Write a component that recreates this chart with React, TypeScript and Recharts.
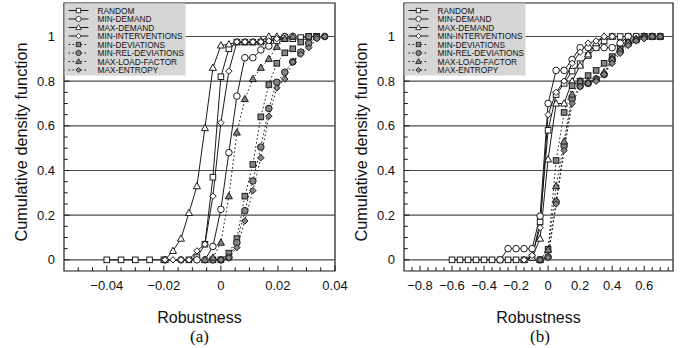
import React from 'react';
import { LineChart, Line, XAxis, YAxis, ReferenceLine, ReferenceArea } from 'recharts';

// ---------- series names (legend order) ----------
const SERIES_NAMES = [
  'RANDOM',
  'MIN-DEMAND',
  'MAX-DEMAND',
  'MIN-INTERVENTIONS',
  'MIN-DEVIATIONS',
  'MIN-REL-DEVIATIONS',
  'MAX-LOAD-FACTOR',
  'MAX-ENTROPY',
];

// ---------- panel (a) data ----------
const aRandomX = [-0.04, -0.035, -0.03, -0.025, -0.02, -0.0112, -0.0084, -0.0056, -0.0028, 0, 0.0028, 0.0056, 0.0084, 0.0112, 0.014, 0.0168, 0.0196, 0.0224, 0.0252, 0.028, 0.0308, 0.0336];
const aRandomY = [0, 0, 0, 0, 0, 0, 0.01, 0.07, 0.37, 0.82, 0.945, 0.975, 0.975, 0.975, 0.975, 0.98, 0.985, 0.99, 0.99, 0.995, 1, 1];

const aMinDemandX = [-0.0196, -0.014, -0.0084, -0.0056, -0.0028, 0, 0.0028, 0.0056, 0.0084, 0.0112, 0.014, 0.0168, 0.0196, 0.0224, 0.0252];
const aMinDemandY = [0, 0, 0, 0, 0.06, 0.226, 0.48, 0.733, 0.905, 0.905, 0.94, 0.957, 0.98, 1, 1];

const aMaxDemandX = [-0.0196, -0.0168, -0.014, -0.0112, -0.0084, -0.0056, -0.0028, 0, 0.0028, 0.0056, 0.0084, 0.0112, 0.014, 0.0168, 0.0196];
const aMaxDemandY = [0, 0.04, 0.095, 0.21, 0.33, 0.59, 0.86, 0.96, 0.965, 0.975, 0.975, 0.975, 0.98, 1, 1];

const aMinIntervX = [-0.0196, -0.0168, -0.014, -0.0112, -0.0084, -0.0056, -0.0028, 0, 0.0028, 0.0056, 0.0084, 0.0112, 0.014, 0.0168, 0.0196, 0.0224];
const aMinIntervY = [0, 0, 0, 0, 0.04, 0.07, 0.285, 0.614, 0.845, 0.976, 0.976, 0.976, 0.976, 0.98, 0.99, 1];

const aMinDevX = [-0.0028, 0, 0.0028, 0.0056, 0.0084, 0.0112, 0.014, 0.0168, 0.0196, 0.0224, 0.0252, 0.028, 0.0308, 0.0336];
const aMinDevY = [0, 0, 0.03, 0.095, 0.285, 0.427, 0.64, 0.785, 0.88, 0.927, 0.945, 0.975, 1, 1];

const aMinRelDevX = [-0.0028, 0, 0.0028, 0.0056, 0.0084, 0.0112, 0.014, 0.0168, 0.0196, 0.0224, 0.0252, 0.028, 0.0308, 0.0336, 0.0364];
const aMinRelDevY = [0, 0, 0.01, 0.077, 0.22, 0.353, 0.505, 0.678, 0.795, 0.84, 0.887, 0.93, 0.97, 0.995, 1];

const aMaxLoadX = [-0.0056, -0.0028, 0, 0.0028, 0.0056, 0.0084, 0.0112, 0.014, 0.0168, 0.0196, 0.0224, 0.0252];
const aMaxLoadY = [0, 0.01, 0.077, 0.285, 0.57, 0.72, 0.81, 0.86, 0.9, 0.954, 0.99, 1];

const aMaxEntX = [0, 0.0028, 0.0056, 0.0084, 0.0112, 0.014, 0.0168, 0.0196, 0.0224, 0.0252, 0.028, 0.0308, 0.0336, 0.0364];
const aMaxEntY = [0, 0.01, 0.055, 0.174, 0.31, 0.457, 0.643, 0.77, 0.81, 0.885, 0.92, 0.95, 0.99, 1];

// ---------- panel (b) data ----------
const bRandomX = [-0.6, -0.55, -0.5, -0.45, -0.4, -0.35, -0.3, -0.25, -0.2, -0.15, -0.1, -0.05, 0, 0.05, 0.1, 0.15, 0.2, 0.25, 0.3, 0.35, 0.4, 0.45, 0.5, 0.55, 0.6, 0.65];
const bRandomY = [0, 0, 0, 0, 0, 0, 0, 0, 0, 0, 0.01, 0.17, 0.58, 0.74, 0.79, 0.845, 0.878, 0.915, 0.95, 0.98, 1, 1, 1, 1, 1, 1];

const bMinDemandX = [-0.3, -0.25, -0.2, -0.15, -0.1, -0.05, 0, 0.05, 0.1, 0.15, 0.2, 0.25, 0.3, 0.35, 0.4, 0.45, 0.5, 0.55];
const bMinDemandY = [0, 0.05, 0.05, 0.05, 0.05, 0.196, 0.7, 0.848, 0.848, 0.897, 0.95, 0.95, 0.95, 0.95, 0.95, 0.97, 1, 1];

const bMaxDemandX = [-0.15, -0.1, -0.05, 0, 0.05, 0.1, 0.15, 0.2, 0.25, 0.3, 0.35, 0.4];
const bMaxDemandY = [0, 0.01, 0.095, 0.45, 0.7, 0.7, 0.8, 0.87, 0.92, 0.97, 1, 1];

const bMinIntervX = [-0.15, -0.1, -0.05, 0, 0.05, 0.1, 0.15, 0.2, 0.25, 0.3, 0.35, 0.4];
const bMinIntervY = [0, 0.02, 0.144, 0.65, 0.75, 0.8, 0.88, 0.93, 0.97, 0.98, 1, 1];

const bMinDevX = [-0.05, 0, 0.05, 0.1, 0.15, 0.2, 0.25, 0.3, 0.35, 0.4, 0.45, 0.5, 0.55, 0.6, 0.65, 0.7];
const bMinDevY = [0, 0.047, 0.445, 0.66, 0.78, 0.8, 0.825, 0.848, 0.88, 0.91, 0.945, 0.97, 0.985, 1, 1, 1];

const bMinRelDevX = [-0.05, 0, 0.05, 0.1, 0.15, 0.2, 0.25, 0.3, 0.35, 0.4, 0.45, 0.5, 0.55, 0.6, 0.65, 0.7];
const bMinRelDevY = [0, 0.013, 0.26, 0.51, 0.72, 0.778, 0.79, 0.81, 0.83, 0.897, 0.934, 0.97, 0.985, 1, 1, 1];

const bMaxLoadX = [-0.05, 0, 0.05, 0.1, 0.15, 0.2, 0.25, 0.3, 0.35, 0.4, 0.45, 0.5, 0.55, 0.6, 0.65, 0.7];
const bMaxLoadY = [0, 0.045, 0.33, 0.53, 0.74, 0.8, 0.8, 0.81, 0.84, 0.9, 0.94, 0.975, 0.99, 1, 1, 1];

const bMaxEntX = [-0.05, 0, 0.05, 0.1, 0.15, 0.2, 0.25, 0.3, 0.35, 0.4, 0.45, 0.5, 0.55, 0.6, 0.65, 0.7];
const bMaxEntY = [0, 0.01, 0.25, 0.49, 0.7, 0.775, 0.79, 0.8, 0.83, 0.88, 0.925, 0.96, 0.98, 0.99, 1, 1];

// ---------- ticks ----------
const aXMajor = [-0.04, -0.02, 0, 0.02, 0.04];
const aXMinor = [-0.05, -0.045, -0.035, -0.03, -0.025, -0.015, -0.01, -0.005, 0.005, 0.01, 0.015, 0.025, 0.03, 0.035];
const bXMajor = [-0.8, -0.6, -0.4, -0.2, 0, 0.2, 0.4, 0.6];
const bXMinor = [-0.85, -0.75, -0.7, -0.65, -0.55, -0.5, -0.45, -0.35, -0.3, -0.25, -0.15, -0.1, -0.05, 0.05, 0.1, 0.15, 0.25, 0.3, 0.35, 0.45, 0.5, 0.55, 0.65, 0.7, 0.75];
const yMajor = [0, 0.2, 0.4, 0.6, 0.8, 1];
const yMinor = [0.05, 0.1, 0.15, 0.25, 0.3, 0.35, 0.45, 0.5, 0.55, 0.65, 0.7, 0.75, 0.85, 0.9, 0.95];

// ---------- styles ----------
type Shape = 'square' | 'circle' | 'triangle' | 'diamond';
const STYLES: { shape: Shape; dotted: boolean }[] = [
  { shape: 'square', dotted: false },
  { shape: 'circle', dotted: false },
  { shape: 'triangle', dotted: false },
  { shape: 'diamond', dotted: false },
  { shape: 'square', dotted: true },
  { shape: 'circle', dotted: true },
  { shape: 'triangle', dotted: true },
  { shape: 'diamond', dotted: true },
];

const INK = '#1a1a1a';
const GRAY_FILL = '#858585';
const FONT = '"Liberation Sans", Arial, Helvetica, sans-serif';
const SERIF = '"Liberation Serif", "Times New Roman", serif';

const zip = (xs: number[], ys: number[]) => xs.map((x, i) => ({ x, y: ys[i] }));

const PANEL_A = [
  zip(aRandomX, aRandomY),
  zip(aMinDemandX, aMinDemandY),
  zip(aMaxDemandX, aMaxDemandY),
  zip(aMinIntervX, aMinIntervY),
  zip(aMinDevX, aMinDevY),
  zip(aMinRelDevX, aMinRelDevY),
  zip(aMaxLoadX, aMaxLoadY),
  zip(aMaxEntX, aMaxEntY),
];
const PANEL_B = [
  zip(bRandomX, bRandomY),
  zip(bMinDemandX, bMinDemandY),
  zip(bMaxDemandX, bMaxDemandY),
  zip(bMinIntervX, bMinIntervY),
  zip(bMinDevX, bMinDevY),
  zip(bMinRelDevX, bMinRelDevY),
  zip(bMaxLoadX, bMaxLoadY),
  zip(bMaxEntX, bMaxEntY),
];

function Marker({ cx, cy, shape, filled }: { cx: number; cy: number; shape: Shape; filled: boolean }) {
  if (cx == null || cy == null || isNaN(cx) || isNaN(cy)) return null;
  const fill = filled ? GRAY_FILL : '#fff';
  const sw = 1;
  if (shape === 'square') {
    const s = 5.6;
    return <rect x={cx - s / 2} y={cy - s / 2} width={s} height={s} fill={fill} stroke={INK} strokeWidth={sw} />;
  }
  if (shape === 'circle') {
    return <circle cx={cx} cy={cy} r={3.3} fill={fill} stroke={INK} strokeWidth={sw} />;
  }
  if (shape === 'triangle') {
    const r = 3.7;
    const pts = `${cx},${cy - r} ${cx + r * 0.95},${cy + r * 0.7} ${cx - r * 0.95},${cy + r * 0.7}`;
    return <polygon points={pts} fill={fill} stroke={INK} strokeWidth={sw} />;
  }
  const r = 3.2;
  const pts = `${cx},${cy - r} ${cx + r},${cy} ${cx},${cy + r} ${cx - r},${cy}`;
  return <polygon points={pts} fill={fill} stroke={INK} strokeWidth={sw} />;
}

const fmt = (v: number) => {
  const r = Math.round(v * 1000) / 1000;
  if (r === 0) return '0';
  return r < 0 ? '\u2212' + String(Math.abs(r)) : String(r);
};

const isIn = (list: number[], v: number) => list.some((m) => Math.abs(m - v) < 1e-9);

const makeXTick = (majors: number[]) => (props: any) => {
  const { x, y, payload } = props;
  const v = payload.value;
  const major = isIn(majors, v);
  return (
    <g>
      <line x1={x} x2={x} y1={y} y2={y - (major ? 5.5 : 3.8)} stroke={INK} strokeWidth={1} />
      {major && (
        <text x={x} y={y + 19} textAnchor="middle" fontSize={13} fontFamily={FONT} fill="#111">
          {fmt(v)}
        </text>
      )}
    </g>
  );
};

const YTick = (props: any) => {
  const { x, y, payload } = props;
  const v = payload.value;
  const major = isIn(yMajor, v);
  return (
    <g>
      <line x1={x} x2={x + (major ? 5.5 : 3.8)} y1={y} y2={y} stroke={INK} strokeWidth={1} />
      {major && (
        <text x={x - 9} y={y + 4.6} textAnchor="end" fontSize={13} fontFamily={FONT} fill="#111">
          {fmt(v)}
        </text>
      )}
    </g>
  );
};

function Panel({
  series,
  xDomain,
  xMajor,
  xMinor,
  width,
  rightMargin,
}: {
  series: { x: number; y: number }[][];
  xDomain: [number, number];
  xMajor: number[];
  xMinor: number[];
  width: number;
  rightMargin: number;
}) {
  const xTicks = [...xMajor, ...xMinor].sort((a, b) => a - b).filter((v) => v >= xDomain[0] && v <= xDomain[1]);
  const yTicks = [...yMajor, ...yMinor].sort((a, b) => a - b);
  return (
    <LineChart width={width} height={348} margin={{ top: 3, right: rightMargin, bottom: 47, left: 0 }}>
      <XAxis
        dataKey="x"
        type="number"
        domain={xDomain}
        ticks={xTicks}
        interval={0}
        tickSize={0}
        tickMargin={0}
        axisLine={false}
        tickLine={false}
        height={30}
        tick={makeXTick(xMajor)}
        allowDataOverflow
      />
      <YAxis
        type="number"
        domain={[-0.05, 1.15]}
        ticks={yTicks}
        interval={0}
        tickSize={0}
        tickMargin={0}
        axisLine={false}
        tickLine={false}
        width={64}
        tick={YTick}
        allowDataOverflow
      />
      {yMajor.map((v) => (
        <ReferenceLine key={v} y={v} stroke="#4a4a4a" strokeWidth={1.2} ifOverflow="visible" />
      ))}
      <ReferenceArea
        x1={xDomain[0]}
        x2={xDomain[1]}
        y1={-0.05}
        y2={1.15}
        fill="none"
        fillOpacity={0}
        stroke={INK}
        strokeWidth={1.2}
        ifOverflow="visible"
      />
      {series.map((d, i) => {
        const st = STYLES[i];
        return (
          <Line
            key={SERIES_NAMES[i]}
            data={d}
            dataKey="y"
            name={SERIES_NAMES[i]}
            stroke={INK}
            strokeWidth={1}
            strokeDasharray={st.dotted ? '1.6 2.4' : undefined}
            isAnimationActive={false}
            dot={(p: any) => (
              <Marker key={`${i}-${p.index}`} cx={p.cx} cy={p.cy} shape={st.shape} filled={st.dotted} />
            )}
            activeDot={false}
          />
        );
      })}
    </LineChart>
  );
}

function LegendBox({ left, top }: { left: number; top: number }) {
  const rowY = (i: number) => top + 7 + i * 8.5;
  return (
    <g>
      <rect x={left} y={top} width={121} height={72} fill="#d6d6d6" stroke="none" />
      {SERIES_NAMES.map((name, i) => {
        const st = STYLES[i];
        const y = rowY(i);
        return (
          <g key={name}>
            <line
              x1={left + 4}
              x2={left + 24}
              y1={y}
              y2={y}
              stroke={INK}
              strokeWidth={1}
              strokeDasharray={st.dotted ? '1.6 2.4' : undefined}
            />
            <g transform={`translate(${left + 14}, ${y}) scale(0.8) translate(${-(left + 14)}, ${-y})`}>
              <Marker cx={left + 14} cy={y} shape={st.shape} filled={st.dotted} />
            </g>
            <text x={left + 33} y={y + 3} fontSize={8.3} fontFamily={FONT} fill="#111">
              {name}
            </text>
          </g>
        );
      })}
    </g>
  );
}

export default function App() {
  return (
    <div style={{ position: 'absolute', left: 0, top: 0, width: 681, height: 348, background: '#fff', overflow: 'hidden' }}>
      <div style={{ position: 'absolute', left: 0, top: 0 }}>
        <Panel series={PANEL_A} xDomain={[-0.055, 0.04]} xMajor={aXMajor} xMinor={aXMinor} width={362} rightMargin={27} />
      </div>
      <div style={{ position: 'absolute', left: 340, top: 0 }}>
        <Panel series={PANEL_B} xDomain={[-0.9, 0.78]} xMajor={bXMajor} xMinor={bXMinor} width={340} rightMargin={7} />
      </div>
      <svg width={681} height={348} style={{ position: 'absolute', left: 0, top: 0, pointerEvents: 'none' }}>
        <LegendBox left={64.5} top={3.5} />
        <LegendBox left={404.5} top={3.5} />
        <text transform="translate(27, 142) rotate(-90)" textAnchor="middle" fontSize={16.3} fontFamily={FONT} fill="#111">
          Cumulative density function
        </text>
        <text transform="translate(367, 142) rotate(-90)" textAnchor="middle" fontSize={16.3} fontFamily={FONT} fill="#111">
          Cumulative density function
        </text>
        <text x={199.5} y={322.5} textAnchor="middle" fontSize={16} fontFamily={FONT} fill="#111">
          Robustness
        </text>
        <text x={538.5} y={322.5} textAnchor="middle" fontSize={16} fontFamily={FONT} fill="#111">
          Robustness
        </text>
        <text x={199.5} y={341.8} textAnchor="middle" fontSize={17} fontFamily={SERIF} fill="#111">
          (a)
        </text>
        <text x={540} y={341.8} textAnchor="middle" fontSize={17} fontFamily={SERIF} fill="#111">
          (b)
        </text>
      </svg>
    </div>
  );
}
